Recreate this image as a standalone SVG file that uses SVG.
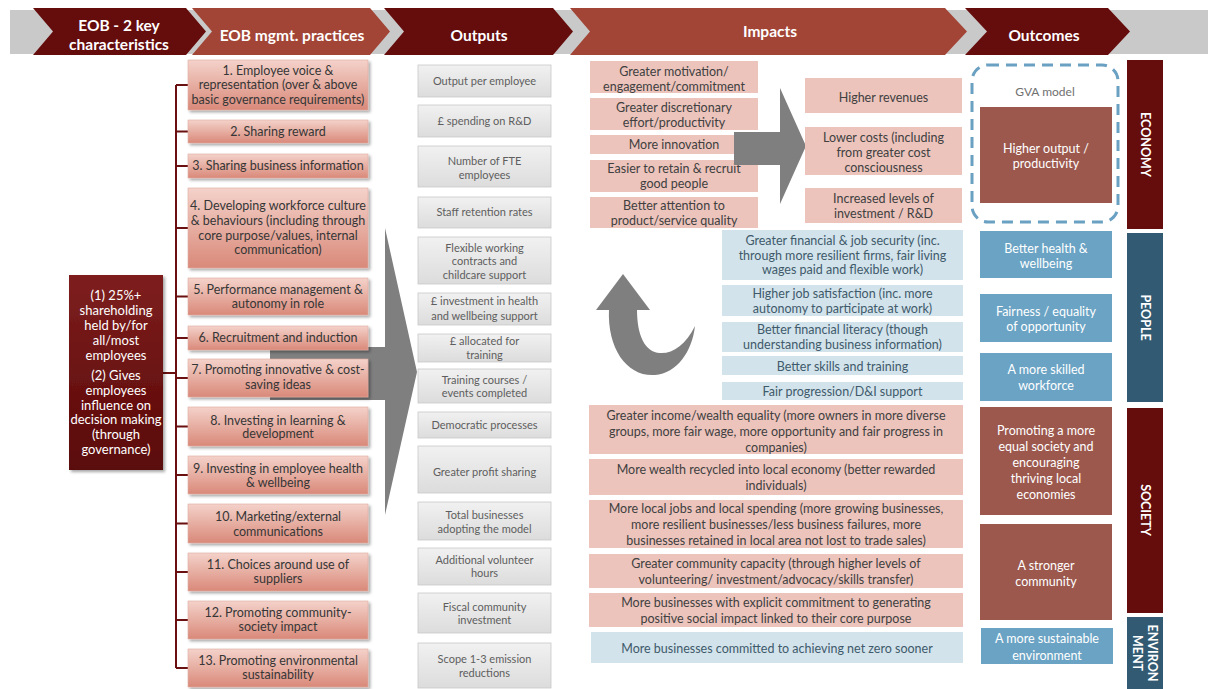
<svg xmlns="http://www.w3.org/2000/svg" width="1208" height="689" viewBox="0 0 1208 689">
  <defs>
    <linearGradient id="gPrac" x1="0" y1="0" x2="0" y2="1">
      <stop offset="0" stop-color="#f4d2ca"/>
      <stop offset="1" stop-color="#d98979"/>
    </linearGradient>
    <linearGradient id="gLeft" x1="0" y1="0" x2="0" y2="1">
      <stop offset="0" stop-color="#7e1f1f"/>
      <stop offset="1" stop-color="#5a0707"/>
    </linearGradient>
    <linearGradient id="gOut" x1="0" y1="0" x2="0" y2="1">
      <stop offset="0" stop-color="#f1f1f1"/>
      <stop offset="1" stop-color="#dcdcdc"/>
    </linearGradient>
    <filter id="sh" x="-10%" y="-20%" width="125%" height="150%">
      <feDropShadow dx="2" dy="2" stdDeviation="1.5" flood-color="#000" flood-opacity="0.35"/>
    </filter>
  </defs>
  <style>
    text { font-family: Lato, "Liberation Sans", sans-serif; text-anchor: middle; }
    .hdark { fill: #650c0c; }
    .hlight { fill: #a24536; }
    .htxt { font-weight: bold; font-size: 15.5px; fill: #ffffff; }
    .prac rect { fill: url(#gPrac); stroke: #e2aca0; stroke-width: 0.6; filter: url(#sh); }
    .prac text { font-size: 12.5px; fill: #363636; }
    .outp rect { fill: url(#gOut); stroke: #c8c8c8; stroke-width: 0.8; }
    .outp text { font-size: 11px; fill: #5e5e5e; }
    .imp rect { fill: #ecc4bc; }
    .imp text { font-size: 12.5px; fill: #404040; }
    .impb rect { fill: #d2e3ec; }
    .impb text { font-size: 12.5px; fill: #3f5a6a; }
    .oc rect { fill: #9c584d; }
    .ocb rect { fill: #6aa3c4; }
    .oc text, .ocb text { font-size: 12.5px; fill: #ffffff; }
    .side text { font-weight: bold; font-size: 12.5px; fill: #ffffff; }
    .chr { font-size: 13px; fill: #ffffff; }
    .conn { stroke: #6b1010; stroke-width: 2; fill: none; }
    .bigarrow { fill: #7f7f7f; }
  </style>

  <!-- header band and chevrons -->
  <g id="header">
    <rect x="10" y="10" width="1198" height="44" fill="#c9c9c9"/>
    <polygon class="hdark" points="33,8 186,8 206,31.5 186,55 33,55 53,31.5"/>
    <polygon class="hlight" points="192,8 370,8 390,31.5 370,55 192,55 212,31.5"/>
    <polygon class="hdark" points="384,8 553,8 573,31.5 553,55 384,55 404,31.5"/>
    <polygon class="hlight" points="570,8 945,8 967,31.5 945,55 570,55 590,31.5"/>
    <polygon class="hdark" points="965,8 1108,8 1130,31.5 1108,55 965,55 987,31.5"/>
    <text class="htxt" x="119" y="30.5">EOB - 2 key</text>
    <text class="htxt" x="119" y="50">characteristics</text>
    <text class="htxt" x="292" y="40.5">EOB mgmt. practices</text>
    <text class="htxt" x="479" y="40.5">Outputs</text>
    <text class="htxt" x="770" y="37">Impacts</text>
    <text class="htxt" x="1044" y="40.5">Outcomes</text>
  </g>

  <!-- broad arrow from practices to outputs -->
  <g id="arrow-practices">
    <polygon class="bigarrow" points="270,347 385,347 385,228 417,372 385,515 385,400 270,400"/>
  </g>

  <!-- tree connectors -->
  <g id="connectors">
    <path class="conn" d="M163,373 H176 M176,85 V668"/>
    <path class="conn" d="M176,85 H188 M176,131.5 H188 M176,166 H188 M176,228 H188 M176,296.5 H188 M176,338 H188 M176,378 H188 M176,426.5 H188 M176,475 H188 M176,523.5 H188 M176,572 H188 M176,620 H188 M176,668 H188"/>
  </g>

  <!-- key characteristics -->
  <g id="characteristics">
    <rect x="69" y="275" width="94" height="195" fill="url(#gLeft)" filter="url(#sh)"/>
    <text class="chr" x="116" y="299.5">(1) 25%+</text>
    <text class="chr" x="116" y="314.5">shareholding</text>
    <text class="chr" x="116" y="329.5">held by/for</text>
    <text class="chr" x="116" y="344.5">all/most</text>
    <text class="chr" x="116" y="359.5">employees</text>
    <text class="chr" x="116" y="379.5">(2) Gives</text>
    <text class="chr" x="116" y="394.5">employees</text>
    <text class="chr" x="116" y="409.5">influence on</text>
    <text class="chr" x="116" y="423.5">decision making</text>
    <text class="chr" x="116" y="438.5">(through</text>
    <text class="chr" x="116" y="453.5">governance)</text>
  </g>

  <!-- management practices -->
  <g id="p1" class="prac"><rect x="188" y="60" width="180" height="50"/>
    <text x="278" y="74.5">1. Employee voice &amp;</text><text x="278" y="89">representation (over &amp; above</text><text x="278" y="103.5">basic governance requirements)</text></g>
  <g id="p2" class="prac"><rect x="188" y="120" width="180" height="23"/>
    <text x="278" y="136">2. Sharing reward</text></g>
  <g id="p3" class="prac"><rect x="188" y="154" width="180" height="24"/>
    <text x="278" y="170">3. Sharing business information</text></g>
  <g id="p4" class="prac"><rect x="188" y="188" width="180" height="80"/>
    <text x="278" y="210">4. Developing workforce culture</text><text x="278" y="225">&amp; behaviours (including through</text><text x="278" y="239.5">core purpose/values, internal</text><text x="278" y="254">communication)</text></g>
  <g id="p5" class="prac"><rect x="188" y="278" width="180" height="37"/>
    <text x="278" y="294">5. Performance management &amp;</text><text x="278" y="308">autonomy in role</text></g>
  <g id="p6" class="prac"><rect x="188" y="326" width="180" height="24"/>
    <text x="278" y="342">6. Recruitment and induction</text></g>
  <g id="p7" class="prac"><rect x="188" y="359" width="180" height="38"/>
    <text x="278" y="374">7. Promoting innovative &amp; cost-</text><text x="278" y="389">saving ideas</text></g>
  <g id="p8" class="prac"><rect x="188" y="407" width="180" height="39"/>
    <text x="278" y="424.5">8. Investing in learning &amp;</text><text x="278" y="438">development</text></g>
  <g id="p9" class="prac"><rect x="188" y="456" width="180" height="38"/>
    <text x="278" y="472.5">9. Investing in employee health</text><text x="278" y="486.5">&amp; wellbeing</text></g>
  <g id="p10" class="prac"><rect x="188" y="504" width="180" height="39"/>
    <text x="278" y="520.5">10. Marketing/external</text><text x="278" y="535.5">communications</text></g>
  <g id="p11" class="prac"><rect x="188" y="553" width="180" height="38"/>
    <text x="278" y="568.5">11. Choices around use of</text><text x="278" y="582.5">suppliers</text></g>
  <g id="p12" class="prac"><rect x="188" y="601" width="180" height="38"/>
    <text x="278" y="616.5">12. Promoting community-</text><text x="278" y="630.5">society impact</text></g>
  <g id="p13" class="prac"><rect x="188" y="649" width="180" height="38"/>
    <text x="278" y="664.5">13. Promoting environmental</text><text x="278" y="678.5">sustainability</text></g>

  <!-- outputs -->
  <g id="o1" class="outp"><rect x="418" y="65" width="133" height="32"/><text x="484.5" y="85">Output per employee</text></g>
  <g id="o2" class="outp"><rect x="418" y="105" width="133" height="32"/><text x="484.5" y="125">£ spending on R&amp;D</text></g>
  <g id="o3" class="outp"><rect x="418" y="146" width="133" height="41"/><text x="484.5" y="164.5">Number of FTE</text><text x="484.5" y="178.5">employees</text></g>
  <g id="o4" class="outp"><rect x="418" y="197" width="133" height="31"/><text x="484.5" y="216">Staff retention rates</text></g>
  <g id="o5" class="outp"><rect x="418" y="237" width="133" height="47"/><text x="484.5" y="251.5">Flexible working</text><text x="484.5" y="265">contracts and</text><text x="484.5" y="278.5">childcare support</text></g>
  <g id="o6" class="outp"><rect x="418" y="293" width="133" height="32"/><text x="484.5" y="305">£ investment in health</text><text x="484.5" y="320">and wellbeing support</text></g>
  <g id="o7" class="outp"><rect x="418" y="334" width="133" height="28"/><text x="484.5" y="345">£ allocated for</text><text x="484.5" y="359">training</text></g>
  <g id="o8" class="outp"><rect x="418" y="369" width="133" height="34"/><text x="484.5" y="383.5">Training courses /</text><text x="484.5" y="397">events completed</text></g>
  <g id="o9" class="outp"><rect x="418" y="412" width="133" height="26"/><text x="484.5" y="428.5">Democratic processes</text></g>
  <g id="o10" class="outp"><rect x="418" y="446" width="133" height="47"/><text x="484.5" y="475.5">Greater profit sharing</text></g>
  <g id="o11" class="outp"><rect x="418" y="502" width="133" height="38"/><text x="484.5" y="518.5">Total businesses</text><text x="484.5" y="532.5">adopting the model</text></g>
  <g id="o12" class="outp"><rect x="418" y="548" width="133" height="37"/><text x="484.5" y="563.5">Additional volunteer</text><text x="484.5" y="577">hours</text></g>
  <g id="o13" class="outp"><rect x="418" y="593" width="133" height="40"/><text x="484.5" y="610.5">Fiscal community</text><text x="484.5" y="624">investment</text></g>
  <g id="o14" class="outp"><rect x="418" y="643" width="133" height="45"/><text x="484.5" y="662.5">Scope 1-3 emission</text><text x="484.5" y="676.5">reductions</text></g>

  <!-- impacts: employee level -->
  <g id="i1" class="imp"><rect x="590" y="61" width="168" height="32"/><text x="674" y="76">Greater motivation/</text><text x="674" y="91">engagement/commitment</text></g>
  <g id="i2" class="imp"><rect x="590" y="98" width="168" height="32"/><text x="674" y="112">Greater discretionary</text><text x="674" y="127">effort/productivity</text></g>
  <g id="i3" class="imp"><rect x="590" y="135" width="168" height="19"/><text x="674" y="149">More innovation</text></g>
  <g id="i4" class="imp"><rect x="590" y="160" width="168" height="32"/><text x="674" y="172.5">Easier to retain &amp; recruit</text><text x="674" y="187.5">good people</text></g>
  <g id="i5" class="imp"><rect x="590" y="197" width="168" height="31"/><text x="674" y="209.5">Better attention to</text><text x="674" y="224.5">product/service quality</text></g>

  <!-- arrow from employee impacts to firm impacts -->
  <g id="arrow-impacts">
    <polygon class="bigarrow" points="734,132 780,132 780,88 806,146 780,204 780,165 734,165"/>
  </g>

  <!-- impacts: firm level -->
  <g id="i6" class="imp"><rect x="805" y="78" width="157" height="35"/><text x="883.5" y="101.5">Higher revenues</text></g>
  <g id="i7" class="imp"><rect x="805" y="127" width="157" height="48"/><text x="883.5" y="141.5">Lower costs (including</text><text x="883.5" y="156.5">from greater cost</text><text x="883.5" y="171.5">consciousness</text></g>
  <g id="i8" class="imp"><rect x="805" y="188" width="157" height="35"/><text x="883.5" y="202.5">Increased levels of</text><text x="883.5" y="217.5">investment / R&amp;D</text></g>

  <!-- feedback arrow -->
  <g id="arrow-feedback">
    <polygon class="bigarrow" points="596,310 623,274 650,310"/>
    <path class="bigarrow" d="M609,309 C607,350 628,377 655,375 C677,373 692,352 695,326 C686,345 672,354 660,353 C645,352 637,336 637,309 Z"/>
  </g>

  <!-- impacts: people -->
  <g id="i9" class="impb"><rect x="722" y="230" width="241" height="50"/><text x="842.5" y="244.5">Greater financial &amp; job security (inc.</text><text x="842.5" y="259.5">through more resilient firms, fair living</text><text x="842.5" y="273.5">wages paid and flexible work)</text></g>
  <g id="i10" class="impb"><rect x="722" y="285" width="241" height="31"/><text x="842.5" y="297.5">Higher job satisfaction (inc. more</text><text x="842.5" y="312.5">autonomy to participate at work)</text></g>
  <g id="i11" class="impb"><rect x="722" y="322" width="241" height="30"/><text x="842.5" y="333.5">Better financial literacy (though</text><text x="842.5" y="348.5">understanding business information)</text></g>
  <g id="i12" class="impb"><rect x="722" y="356" width="241" height="19"/><text x="842.5" y="370.5">Better skills and training</text></g>
  <g id="i13" class="impb"><rect x="722" y="382" width="241" height="18"/><text x="842.5" y="395.5">Fair progression/D&amp;I support</text></g>

  <!-- impacts: society and environment -->
  <g id="i14" class="imp"><rect x="589" y="405" width="374" height="49"/><text x="776" y="419.5">Greater income/wealth equality (more owners in more diverse</text><text x="776" y="435.5">groups, more fair wage, more opportunity and fair progress in</text><text x="776" y="451.5">companies)</text></g>
  <g id="i15" class="imp"><rect x="589" y="459" width="374" height="36"/><text x="776" y="473.5">More wealth recycled into local economy (better rewarded</text><text x="776" y="489.5">individuals)</text></g>
  <g id="i16" class="imp"><rect x="589" y="500" width="374" height="48"/><text x="776" y="512.5">More local jobs and local spending (more growing businesses,</text><text x="776" y="528.5">more resilient businesses/less business failures, more</text><text x="776" y="544.5">businesses retained in local area not lost to trade sales)</text></g>
  <g id="i17" class="imp"><rect x="589" y="554" width="374" height="34"/><text x="776" y="567.5">Greater community capacity (through higher levels of</text><text x="776" y="583.5">volunteering/ investment/advocacy/skills transfer)</text></g>
  <g id="i18" class="imp"><rect x="589" y="593" width="374" height="34"/><text x="776" y="606.5">More businesses with explicit commitment to generating</text><text x="776" y="622.5">positive social impact linked to their core purpose</text></g>
  <g id="i19" class="impb"><rect x="591" y="632" width="372" height="31"/><text x="777" y="652.5">More businesses committed to achieving net zero sooner</text></g>

  <!-- outcomes -->
  <g id="gva">
    <rect x="972" y="65" width="146" height="157" rx="16" fill="none" stroke="#6aa0c2" stroke-width="3" stroke-dasharray="11 7"/>
    <text x="1045" y="96" font-size="12" fill="#707070">GVA model</text>
  </g>
  <g id="oc1" class="oc"><rect x="980" y="107" width="132" height="96"/><text x="1046" y="152.5">Higher output /</text><text x="1046" y="167.5">productivity</text></g>
  <g id="oc2" class="ocb"><rect x="980" y="231" width="132" height="47"/><text x="1046" y="252.5">Better health &amp;</text><text x="1046" y="267.5">wellbeing</text></g>
  <g id="oc3" class="ocb"><rect x="980" y="294" width="132" height="48"/><text x="1046" y="315.5">Fairness / equality</text><text x="1046" y="330.5">of opportunity</text></g>
  <g id="oc4" class="ocb"><rect x="980" y="353" width="132" height="48"/><text x="1046" y="373.5">A more skilled</text><text x="1046" y="390">workforce</text></g>
  <g id="oc5" class="oc"><rect x="980" y="407" width="132" height="108"/><text x="1046" y="434.5">Promoting a more</text><text x="1046" y="450.5">equal society and</text><text x="1046" y="466.5">encouraging</text><text x="1046" y="482.5">thriving local</text><text x="1046" y="498.5">economies</text></g>
  <g id="oc6" class="oc"><rect x="980" y="524" width="132" height="96"/><text x="1046" y="569.5">A stronger</text><text x="1046" y="585.5">community</text></g>
  <g id="oc7" class="ocb"><rect x="981" y="628" width="132" height="36"/><text x="1047" y="642.5">A more sustainable</text><text x="1047" y="659.5">environment</text></g>

  <!-- outcome categories -->
  <g id="economy" class="side"><rect x="1127" y="60" width="36" height="169" fill="#650c0c"/>
    <text transform="translate(1145,144.5) rotate(90)" y="4.5">ECONOMY</text></g>
  <g id="people" class="side"><rect x="1127" y="233" width="36" height="169" fill="#325a72"/>
    <text transform="translate(1145,317.5) rotate(90)" y="4.5">PEOPLE</text></g>
  <g id="society" class="side"><rect x="1127" y="408" width="36" height="205" fill="#650c0c"/>
    <text transform="translate(1145,510) rotate(90)" y="4.5">SOCIETY</text></g>
  <g id="environment" class="side"><rect x="1127" y="617" width="36" height="75" fill="#325a72"/>
    <text transform="translate(1145,653) rotate(90)" y="-3">ENVIRON</text>
    <text transform="translate(1145,653) rotate(90)" y="12">MENT</text></g>
</svg>
